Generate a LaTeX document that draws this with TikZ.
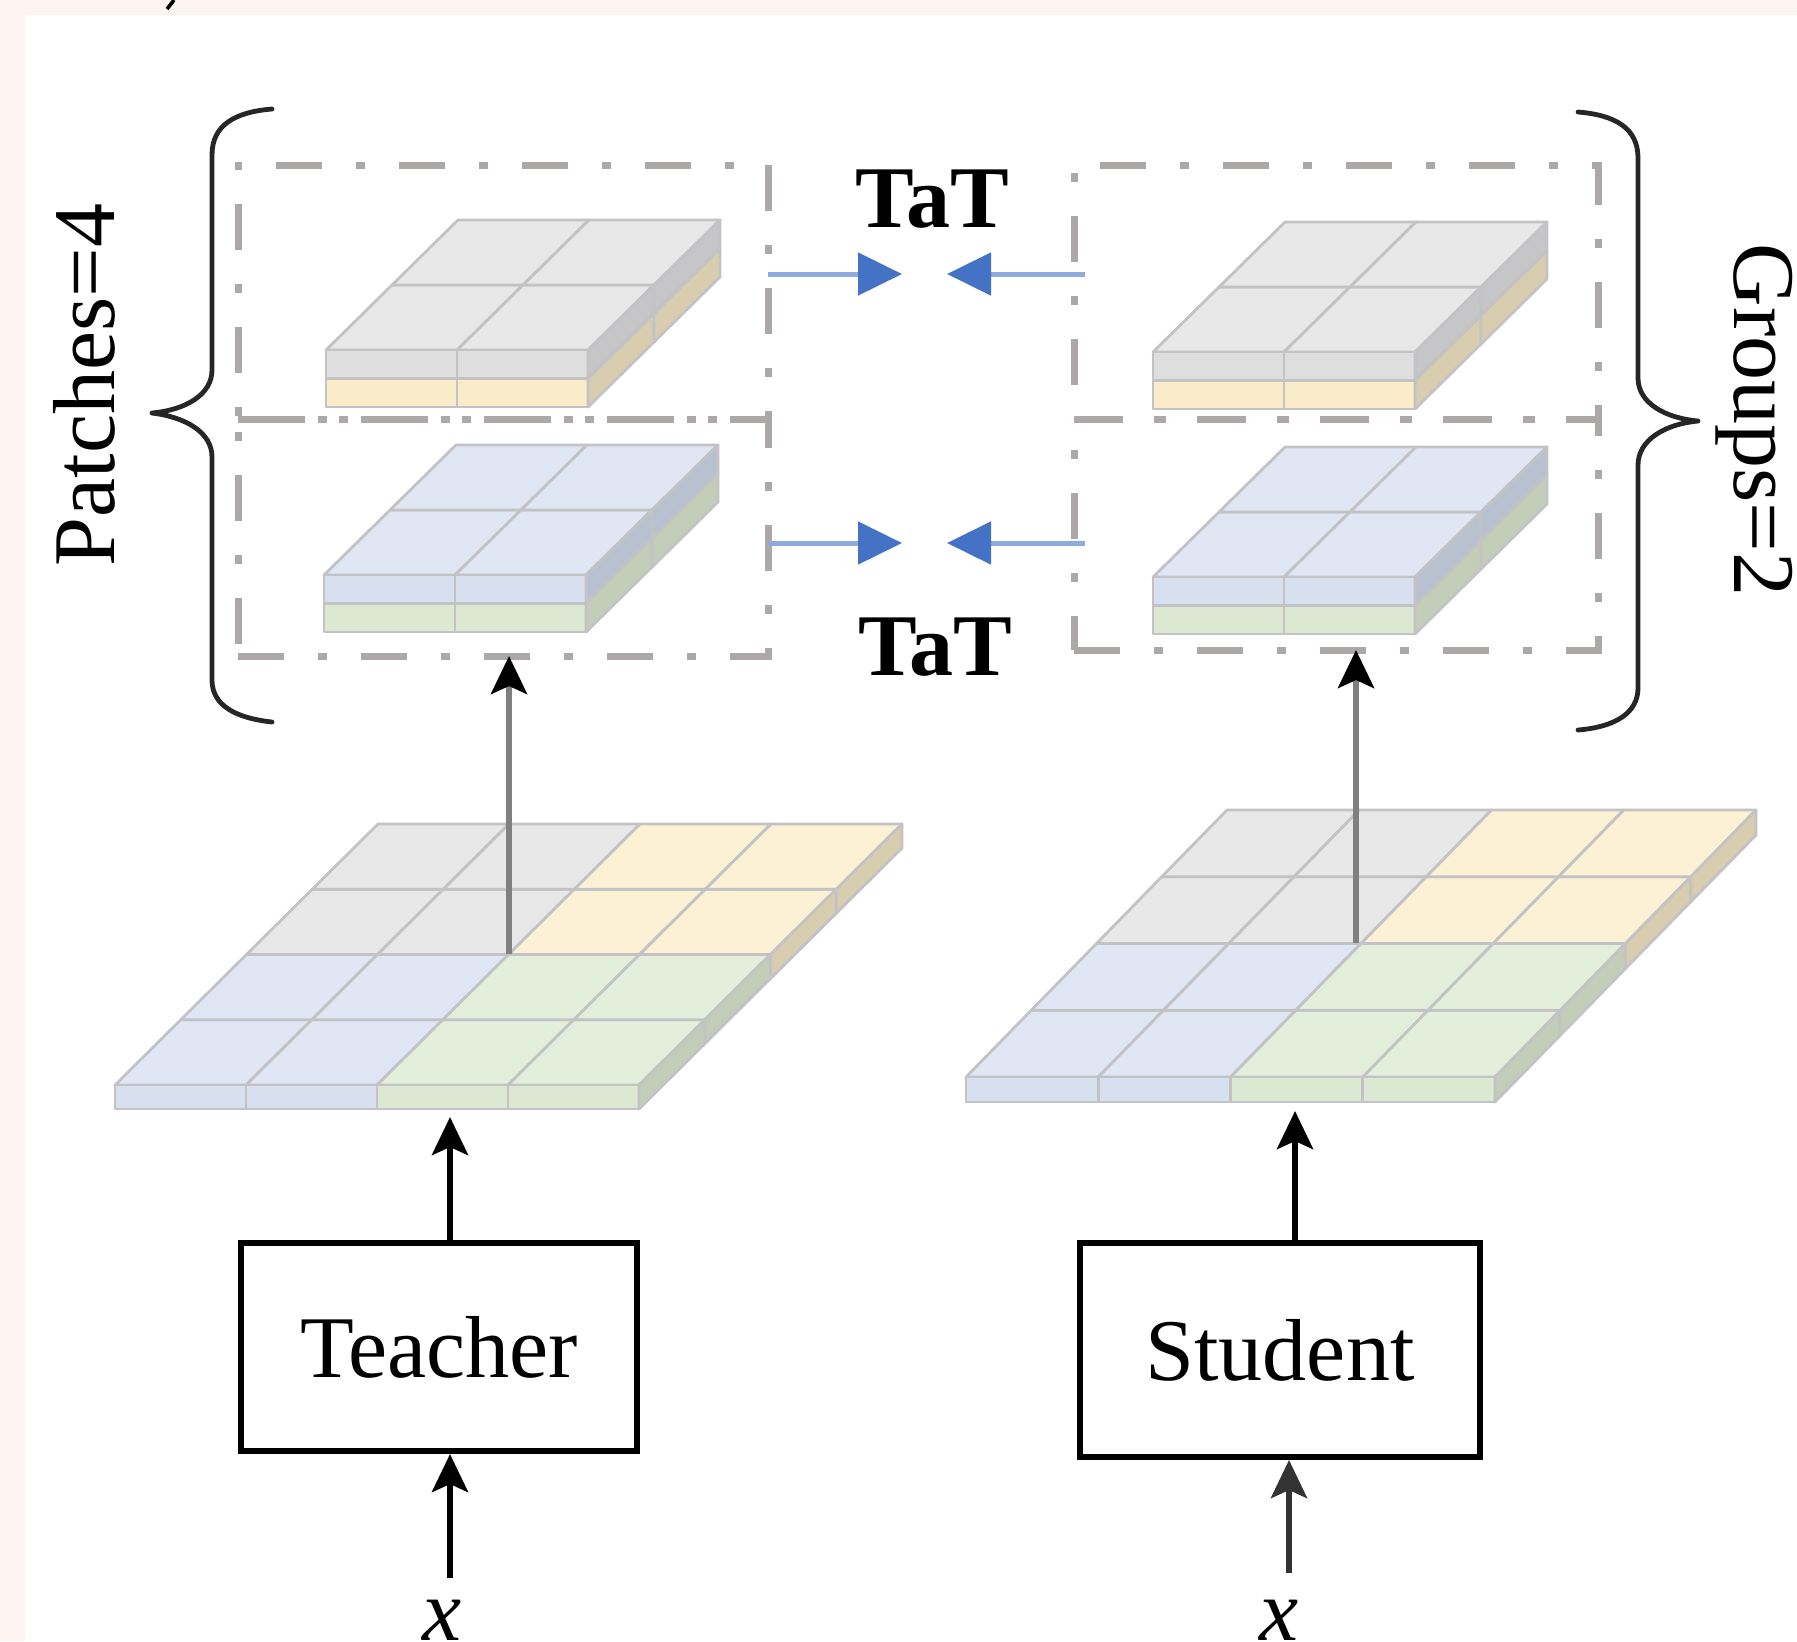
\documentclass[tikz,border=0pt]{standalone}
\usepackage{fontspec}
\setmainfont{Liberation Serif}
\usetikzlibrary{arrows.meta}
\definecolor{top0}{HTML}{E0E6F4}
\definecolor{top1}{HTML}{E4EFDB}
\definecolor{top2}{HTML}{E8E8E8}
\definecolor{top3}{HTML}{FDF1D5}
\definecolor{front0}{HTML}{D8DFEF}
\definecolor{front1}{HTML}{DCE8D2}
\definecolor{front2}{HTML}{DEDEDE}
\definecolor{front3}{HTML}{FBECC9}
\definecolor{side0}{HTML}{B9C1D1}
\definecolor{side1}{HTML}{C4CDB7}
\definecolor{side2}{HTML}{C6C6C8}
\definecolor{side3}{HTML}{D8CDAF}
\definecolor{gridline}{HTML}{C3C3C5}
\definecolor{dashgray}{HTML}{ACA8A8}
\definecolor{pinkbg}{HTML}{FDF3F0}
\definecolor{bline}{HTML}{8FAADC}
\definecolor{btip}{HTML}{4472C4}
\definecolor{shaftgray}{HTML}{808080}
\newcommand{\bigslab}[6]{% x0, y0, width, depth dx, depth rise, thickness
  \pgfmathsetmacro\slCw{#3/4}
  \pgfmathsetmacro\slSx{#4/4}
  \pgfmathsetmacro\slSy{#5/4}
  \foreach \j in {0,...,3}{
    \foreach \i in {0,...,3}{
      \pgfmathtruncatemacro\qq{(\i>1)+2*(\j>1)}
      \pgfmathsetmacro\pAx{#1+\i*\slCw+\j*\slSx}
      \pgfmathsetmacro\pAy{#2-\j*\slSy}
      \pgfmathsetmacro\pBx{\pAx+\slCw}
      \pgfmathsetmacro\pCx{\pBx+\slSx}
      \pgfmathsetmacro\pDx{\pAx+\slSx}
      \pgfmathsetmacro\pCy{\pAy-\slSy}
      \filldraw[cellline, fill=top\qq] (\pAx,\pAy) -- (\pBx,\pAy) -- (\pCx,\pCy) -- (\pDx,\pCy) -- cycle;
    }
  }
  \foreach \i in {0,...,3}{
    \pgfmathtruncatemacro\qq{(\i>1)}
    \pgfmathsetmacro\pAx{#1+\i*\slCw}
    \pgfmathsetmacro\pBx{\pAx+\slCw}
    \filldraw[cellline, fill=front\qq] (\pAx,#2) rectangle (\pBx,#2+#6);
  }
  \foreach \j in {0,...,3}{
    \pgfmathtruncatemacro\qq{1+2*(\j>1)}
    \pgfmathsetmacro\pAx{#1+#3+\j*\slSx}
    \pgfmathsetmacro\pAy{#2-\j*\slSy}
    \pgfmathsetmacro\pBx{\pAx+\slSx}
    \pgfmathsetmacro\pBy{\pAy-\slSy}
    \filldraw[cellline, fill=side\qq] (\pAx,\pAy) -- (\pBx,\pBy) -- (\pBx,\pBy+#6) -- (\pAx,\pAy+#6) -- cycle;
  }
}
\newcommand{\tatblock}[4]{% x0, y0, top colour index, bottom colour index
  \foreach \j in {0,1}{
    \foreach \i in {0,1}{
      \pgfmathsetmacro\pAx{#1+\i*131+\j*66}
      \pgfmathsetmacro\pAy{#2-\j*65}
      \filldraw[cellline, fill=top#3] (\pAx,\pAy) -- (\pAx+131,\pAy) -- (\pAx+197,\pAy-65) -- (\pAx+66,\pAy-65) -- cycle;
    }
  }
  \foreach \i in {0,1}{
    \pgfmathsetmacro\pAx{#1+\i*131}
    \filldraw[cellline, fill=front#3] (\pAx,#2) rectangle (\pAx+131,#2+28.5);
    \filldraw[cellline, fill=front#4] (\pAx,#2+28.5) rectangle (\pAx+131,#2+57);
  }
  \foreach \j in {0,1}{
    \pgfmathsetmacro\pAx{#1+262+\j*66}
    \pgfmathsetmacro\pAy{#2-\j*65}
    \filldraw[cellline, fill=side#3] (\pAx,\pAy) -- (\pAx+66,\pAy-65) -- (\pAx+66,\pAy-36.5) -- (\pAx,\pAy+28.5) -- cycle;
    \filldraw[cellline, fill=side#4] (\pAx,\pAy+28.5) -- (\pAx+66,\pAy-36.5) -- (\pAx+66,\pAy-8) -- (\pAx,\pAy+57) -- cycle;
  }
}
\begin{document}
\begin{tikzpicture}[x=0.25pt,y=-0.25pt,
  cellline/.style={draw=gridline, line width=0.7pt, line join=round},
  dbox/.style={draw=dashgray, line width=1.75pt, dash pattern=on 11.5pt off 8.5pt on 2.25pt off 8.5pt, inner sep=0pt, outer sep=0pt, minimum width=#1},
  lbl/.style={font=\fontsize{22}{26}\selectfont, inner sep=0pt},
  mbox/.style={draw=black, line width=1.5pt, fill=white, font=\fontsize{22}{26}\selectfont, inner sep=0pt},
  karr/.style={draw=black, line width=1.5pt, -{Stealth[length=9.5pt,width=9pt,inset=2pt]}},
  garr/.style={draw=shaftgray, line width=1.5pt, -{Stealth[length=9.5pt,width=9pt,inset=2pt,color=black]}},
  barr/.style={draw=bline, line width=1.25pt, -{Triangle[length=11pt,width=10.5pt,color=btip]}},
  brace/.style={draw=black!85, line width=1.2pt, line cap=round, line join=round}]
\useasboundingbox (0,0) rectangle (1797,1641);
\fill[white] (0,0) rectangle (1797,1641);
\fill[pinkbg] (0,0) rectangle (1797,15);
\fill[pinkbg] (0,0) rectangle (25,1641);
\draw[line width=0.9pt] (174,0) -- (167,9);

% dashed group boxes
\node[dbox=132.5pt, minimum height=63.5pt] (lu) at (503,292) {};
\node[dbox=132.5pt, minimum height=59.25pt] (ll) at (503,537.5) {};
\node[dbox=131pt, minimum height=63.5pt] (ru) at (1336,292) {};
\node[dbox=131pt, minimum height=57.75pt] (rl) at (1336,534.5) {};

% stacked patch blocks
\tatblock{326}{350}{2}{3}
\tatblock{324}{575}{0}{1}
\tatblock{1153}{352}{2}{3}
\tatblock{1153}{577}{0}{1}

% feature maps
\bigslab{115}{1085}{524}{263}{261}{24}
\bigslab{966}{1077}{529}{261}{267}{25}

% braces
\draw[brace] (272,109) .. controls (235,112) and (212,125) .. (212,155) -- (212,370)
  .. controls (212,395) and (185,410) .. (152,413)
  .. controls (185,417) and (212,432) .. (212,457) -- (212,680)
  .. controls (212,705) and (235,718) .. (272,722);
\draw[brace] (1578,112) .. controls (1615,115) and (1638,128) .. (1638,158) -- (1638,378)
  .. controls (1638,403) and (1665,418) .. (1698,421)
  .. controls (1665,424) and (1638,440) .. (1638,465) -- (1638,688)
  .. controls (1638,713) and (1615,727) .. (1578,730);

% labels
\node[lbl, rotate=90] (patches) at (84,385) {Patches=4};
\node[lbl, rotate=-90] (groups) at (1754,420) {Groups=2};
\node[lbl, font=\fontsize{22}{26}\selectfont\bfseries, anchor=base] (tat1) at (932,227) {TaT};
\node[lbl, font=\fontsize{22}{26}\selectfont\bfseries, anchor=base] (tat2) at (935,675) {TaT};

% blue TaT arrows
\coordinate (lut) at (902,274);
\coordinate (rut) at (947,274);
\coordinate (llt) at (902,543);
\coordinate (rlt) at (947,543);
\draw[barr] (lu.east |- lut) -- (lut);
\draw[barr] ([xshift=2.75pt]ru.west |- rut) -- (rut);
\draw[barr] (ll.east |- llt) -- (llt);
\draw[barr] ([xshift=2.75pt]rl.west |- rlt) -- (rlt);

% models
\node[mbox, minimum width=99pt, minimum height=52pt] (teacher) at (439,1347) {Teacher};
\node[mbox, minimum width=100pt, minimum height=53.5pt] (student) at (1280,1350) {Student};
\node[lbl, anchor=base] (xt) at (442,1640) {\textit{x}};
\node[lbl, anchor=base] (xs) at (1279,1640) {\textit{x}};

% feature map centres and bottoms
\coordinate (tslab) at (509,954);
\coordinate (sslab) at (1356,943);
\coordinate (tslabB) at (450,1117);
\coordinate (sslabB) at (1295,1111);

\draw[garr] (tslab) -- (ll.south -| tslab);
\draw[garr] (sslab) -- (rl.south -| sslab);
\draw[karr] (teacher.north -| tslabB) -- (tslabB);
\draw[karr] (student.north -| sslabB) -- (sslabB);
\draw[karr] ([xshift=2pt,yshift=5.25pt]xt.north) -- ([xshift=2pt]xt.north |- teacher.south);
\draw[karr, draw=black!80] ([xshift=2.5pt,yshift=6.5pt]xs.north) -- ([xshift=2.5pt]xs.north |- student.south);
\end{tikzpicture}
\end{document}
